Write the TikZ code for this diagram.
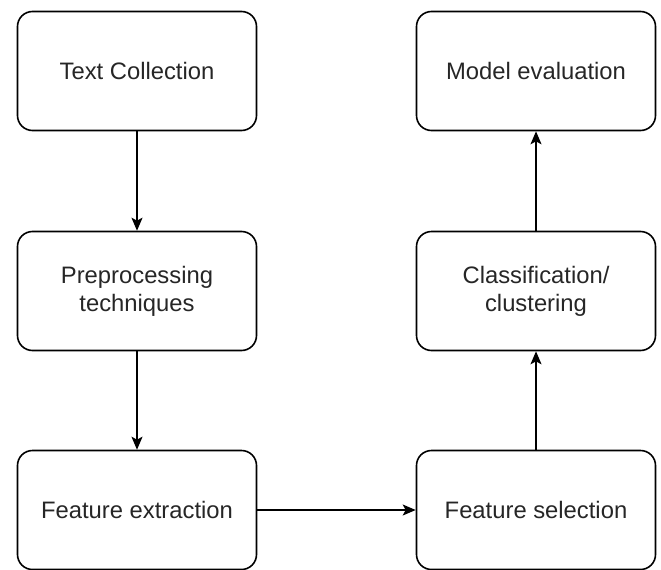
\documentclass[tikz,border=0pt]{standalone}
\usepackage{fontspec}
\setmainfont{Liberation Sans}
\usetikzlibrary{arrows.meta}
\begin{document}
\begin{tikzpicture}[x=1pt,y=-1pt,
  stepbox/.style={draw=black,line width=1.6pt,rounded corners=15pt,minimum width=239pt,minimum height=119pt,align=center,font=\fontsize{23.8}{28}\selectfont,text=black!85,inner sep=0pt},
  flow/.style={line width=1.6pt,-{Stealth[length=13pt,width=11pt,inset=3pt]}}]
\useasboundingbox (0,0) rectangle (661,570);
\node[stepbox] (tc) at (137,71) {Text Collection};
\node[stepbox] (pp) at (137,291) {Preprocessing\\techniques};
\node[stepbox] (fe) at (137,510) {Feature extraction};
\node[stepbox] (fs) at (536,510) {Feature selection};
\node[stepbox] (cc) at (536,291) {Classification/\\clustering};
\node[stepbox] (me) at (536,71) {Model evaluation};
\draw[flow] (tc) -- (pp);
\draw[flow] (pp) -- (fe);
\draw[flow] (fe) -- (fs);
\draw[flow] (fs) -- (cc);
\draw[flow] (cc) -- (me);
\end{tikzpicture}
\end{document}
